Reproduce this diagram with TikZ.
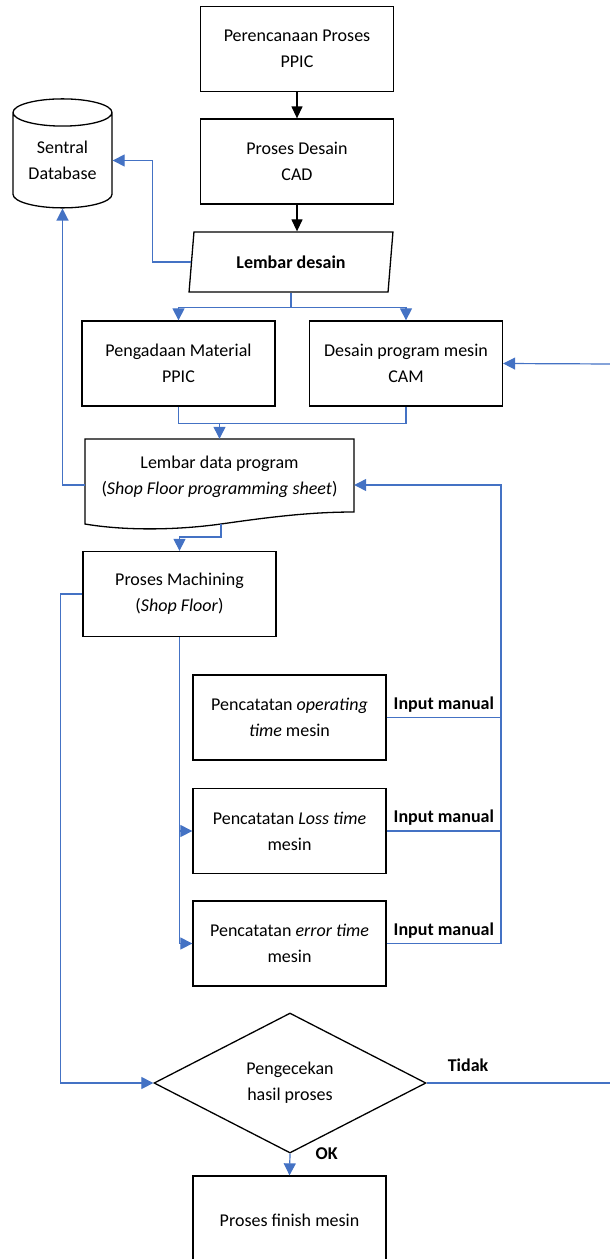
\documentclass[tikz,border=0pt]{standalone}
\usepackage{fontspec}
\setmainfont{Carlito}
\usepackage{tikz}
\usetikzlibrary{arrows.meta,calc,positioning,shapes.geometric}
\definecolor{flowblue}{HTML}{4472C4}

\begin{document}
\begin{tikzpicture}[x=1pt,y=1pt,yscale=-1,
    font=\fontsize{18}{26}\selectfont,
    box/.style={draw, line width=1.3pt, minimum width=193pt, minimum height=85pt, align=center, inner sep=2pt},
    blk/.style={line width=1.3pt, -{Triangle[length=12pt,width=11pt]}},
    bl/.style={draw=flowblue, line width=1.2pt},
    bla/.style={bl, -{Triangle[length=12pt,width=12pt]}},
    lbl/.style={font=\fontsize{18}{26}\selectfont\bfseries, inner sep=3pt}]
    \useasboundingbox (0,0) rectangle (610,1259);

    %Shapes
    \node[box] (ppic) at (297,49) {Perencanaan Proses\\PPIC};
    \node[box] (cad) at (297,161.5) {Proses Desain\\CAD};
    \node[draw, trapezium, trapezium stretches=true, trapezium left angle=77.8, trapezium right angle=102.2,
      line width=1.3pt, minimum width=204pt, minimum height=60pt, inner sep=0pt] (lembar) at (291,262) {\bfseries Lembar desain};
    \node[draw, cylinder, shape border rotate=90, aspect=0.4, line width=1.3pt,
      minimum width=99pt, minimum height=109pt, align=center, inner sep=0pt] (db) at (62.5,160.5) {Sentral\\Database};
    \node[box] (material) at (178.5,363.5) {Pengadaan Material\\PPIC};
    \node[box] (cam) at (406,363.5) {Desain program mesin\\CAM};

    %Shape: Document
    \node[align=center, minimum width=269pt, minimum height=76pt, inner sep=0pt] (ldp) at (219.5,477)
      {Lembar data program\\(\textit{Shop Floor programming sheet})};
    \draw[line width=1.3pt] (85,439) -- (354,439) -- (354,512) .. controls (310,512) and (270,517) .. (221,524)
      .. controls (170,531) and (120,530) .. (85,524) -- cycle;
    \coordinate (ldpout) at (221,524);

    \node[box] (mach) at (179.5,594) {Proses Machining\\(\textit{Shop Floor})};
    \node[box] (optime) at (289.5,717.5) {Pencatatan \textit{operating}\\\textit{time} mesin};
    \node[box] (loss) at (289.5,831) {Pencatatan \textit{Loss time}\\mesin};
    \node[box] (err) at (289.5,943.5) {Pencatatan \textit{error time}\\mesin};
    \node[draw, diamond, aspect=1.94, line width=1.3pt, minimum width=272pt, minimum height=140pt,
      inner sep=0pt, align=center] (cek) at (290,1083) {Pengecekan\\hasil proses};
    \node[box, minimum height=88pt] (finish) at (289.5,1220) {Proses finish mesin};

    %Connectors
    \draw[blk] (ppic) -- (cad);
    \draw[blk] (cad.south) -- (cad.south |- lembar.north);

    \draw[bla] (lembar.west) -- ++(-38,0) |- (db.east);
    \draw[bl] (lembar.south) -- ++(0,15) coordinate (split);
    \draw[bla] (split) -| (material.north);
    \draw[bla] (split) -| (cam.north);
    \coordinate (camin) at (615,364);
    \draw[bla] (camin) -- (cam.east);

    \draw[bl] (material.south) -- ++(0,17) -| (cam.south);
    \draw[bla] ($(ldp.north)+(0,-16)$) -- (ldp.north);
    \draw[bla] ($(ldp.west)+(0,8)$) -| (db.south);
    \draw[bla] (ldpout) -- ++(0,13) -| (mach.north);

    \coordinate (rbus) at (501,943.5);
    \draw[bla] (err.east) -- node[lbl, above=2pt]{Input manual} (rbus) |- ($(ldp.east)+(0,8)$);
    \draw[bl] (optime.east) -- node[lbl, above=2pt]{Input manual} (optime.east -| rbus);
    \draw[bl] (loss.east) -- node[lbl, above=2pt]{Input manual} (loss.east -| rbus);

    \draw[bla] (mach.south) |- (err.west);
    \draw[bla] (mach.south |- loss.west) -- (loss.west);
    \draw[bla] (mach.west) -- ++(-22,0) |- (cek.west);

    \coordinate (tidakout) at (615,1083);
    \draw[bl] (cek.east) -- node[lbl, pos=0.22, above=8pt]{Tidak} (tidakout);
    \draw[bla] (cek.south) -- node[lbl, pos=0, right=22pt]{OK} (finish.north);
\end{tikzpicture}
\end{document}
